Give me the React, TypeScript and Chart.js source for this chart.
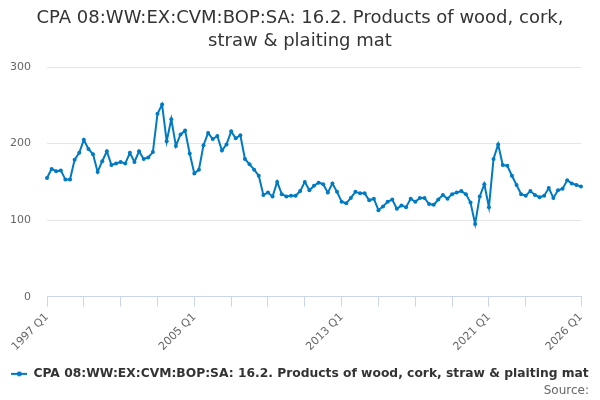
import { useEffect, useRef } from "react";
import { Chart, registerables } from "chart.js";

Chart.register(...registerables);

const TITLE_LINES = [
  "CPA 08:WW:EX:CVM:BOP:SA: 16.2. Products of wood, cork,",
  "straw & plaiting mat",
];
const SERIES_NAME =
  "CPA 08:WW:EX:CVM:BOP:SA: 16.2. Products of wood, cork, straw & plaiting mat";
const SOURCE_TEXT = "Source:";

const FIRST_YEAR = 1997;
const LAST_YEAR = 2026;
const LAST_QUARTER = 1;

const categories: string[] = [];
for (let y = FIRST_YEAR; y <= LAST_YEAR; y++) {
  for (let q = 1; q <= 4; q++) {
    if (y === LAST_YEAR && q > LAST_QUARTER) break;
    categories.push(`${y} Q${q}`);
  }
}

const values = [
  155, 167, 164, 165, 153, 153, 179, 188, 205, 193,
  186, 163, 177, 190, 172, 174, 176, 174, 188, 176,
  190, 180, 182, 189, 239, 251, 203, 232, 197, 212,
  217, 187, 161, 166, 198, 214, 206, 210, 191, 199,
  216, 207, 211, 180, 173, 166, 158, 133, 136, 131,
  150, 134, 131, 132, 132, 138, 150, 139, 145, 149,
  147, 136, 148, 137, 124, 122, 129, 137, 135, 135,
  126, 128, 113, 118, 124, 127, 115, 119, 117, 128,
  124, 129, 129, 121, 120, 127, 133, 128, 134, 136,
  138, 134, 123, 95, 131, 147, 117, 180, 199, 172,
  171, 158, 146, 134, 132, 138, 133, 130, 132, 142,
  129, 139, 141, 152, 148, 146, 144,
];

const tickLabels = ["1997 Q1", "2005 Q1", "2013 Q1", "2021 Q1", "2026 Q1"];
const tickMarkLabels = [
  "1997 Q1", "1999 Q1", "2001 Q1", "2003 Q1", "2005 Q1", "2007 Q1", "2009 Q1",
  "2011 Q1", "2013 Q1", "2015 Q1", "2017 Q1", "2019 Q1", "2021 Q1", "2023 Q1",
  "2026 Q1",
];
const Y_MIN = 0;
const Y_MAX = 300;
const Y_STEP = 100;

const LINE_COLOR = "#007ac3";
const FONT = '"DejaVu Sans", sans-serif';

function makeLegendMarker(): HTMLCanvasElement {
  const c = document.createElement("canvas");
  c.width = 16;
  c.height = 8;
  const g = c.getContext("2d")!;
  g.strokeStyle = LINE_COLOR;
  g.lineWidth = 2;
  g.beginPath();
  g.moveTo(0, 4);
  g.lineTo(16, 4);
  g.stroke();
  g.fillStyle = LINE_COLOR;
  g.beginPath();
  g.arc(8, 4, 2.5, 0, Math.PI * 2);
  g.fill();
  return c;
}

const sourcePlugin = {
  id: "sourceText",
  afterDraw(chart: any) {
    const ctx = chart.ctx;
    ctx.save();
    ctx.font = `12px ${FONT}`;
    ctx.fillStyle = "#666666";
    ctx.textAlign = "right";
    ctx.textBaseline = "middle";
    ctx.fillText(SOURCE_TEXT, 589, 391);
    ctx.restore();
  },
};

export default function App() {
  const ref = useRef<HTMLCanvasElement | null>(null);

  useEffect(() => {
    if (!ref.current) return;
    const marker = makeLegendMarker();
    const chart = new Chart(ref.current, {
      type: "line",
      data: {
        labels: categories,
        datasets: [
          {
            label: SERIES_NAME,
            data: values,
            borderColor: LINE_COLOR,
            backgroundColor: LINE_COLOR,
            borderWidth: 2,
            pointRadius: 2,
            pointHoverRadius: 2,
            pointBackgroundColor: LINE_COLOR,
            pointBorderWidth: 0,
            tension: 0,
            fill: false,
          },
        ],
      },
      options: {
        responsive: false,
        animation: false,
        devicePixelRatio: 1,
        layout: { padding: { top: 0, left: 0, right: 0, bottom: 10 } },
        plugins: {
          title: {
            display: true,
            text: TITLE_LINES,
            color: "#333333",
            font: { family: FONT, size: 18, weight: "normal", lineHeight: 1.28 },
            padding: { top: 7, bottom: 14 },
          },
          legend: {
            display: true,
            position: "bottom",
            labels: {
              usePointStyle: true,
              pointStyle: marker as any,
              pointStyleWidth: 16,
              color: "#333333",
              font: { family: FONT, size: 12.3, weight: "bold" },
              padding: 10,
            },
          },
          tooltip: { enabled: false },
        },
        scales: {
          x: {
            type: "category",
            offset: false,
            border: { display: true, color: "#ccd6eb", width: 1 },
            grid: {
              drawOnChartArea: false,
              drawTicks: true,
              tickLength: 10,
              color: (c: any) =>
                tickMarkLabels.includes(categories[c.index]) ? "#ccd6eb" : "rgba(0,0,0,0)",
            },
            ticks: {
              autoSkip: false,
              maxRotation: 45,
              minRotation: 45,
              padding: 4,
              color: "#666666",
              font: { family: FONT, size: 11 },
              callback: (_v: any, i: number) =>
                tickLabels.includes(categories[i]) ? categories[i] : "",
            },
            afterFit: (s: any) => {
              s.height = 61;
            },
          },
          y: {
            type: "linear",
            position: "left",
            min: Y_MIN,
            max: Y_MAX,
            border: { display: false },
            grid: { color: "#e6e6e6", drawTicks: false },
            ticks: {
              stepSize: Y_STEP,
              padding: 16,
              color: "#666666",
              font: { family: FONT, size: 11 },
            },
            afterFit: (s: any) => {
              s.width = 47;
            },
          },
          yRight: {
            type: "linear",
            position: "right",
            display: true,
            border: { display: false },
            grid: { display: false, drawTicks: false },
            ticks: { display: false },
            afterFit: (s: any) => {
              s.width = 19;
            },
          },
        },
      } as any,
      plugins: [sourcePlugin],
    });
    return () => chart.destroy();
  }, []);

  return (
    <div style={{ position: "absolute", left: 0, top: 0, width: 600, height: 400 }}>
      <canvas ref={ref} width={600} height={400} style={{ width: 600, height: 400 }} />
    </div>
  );
}
